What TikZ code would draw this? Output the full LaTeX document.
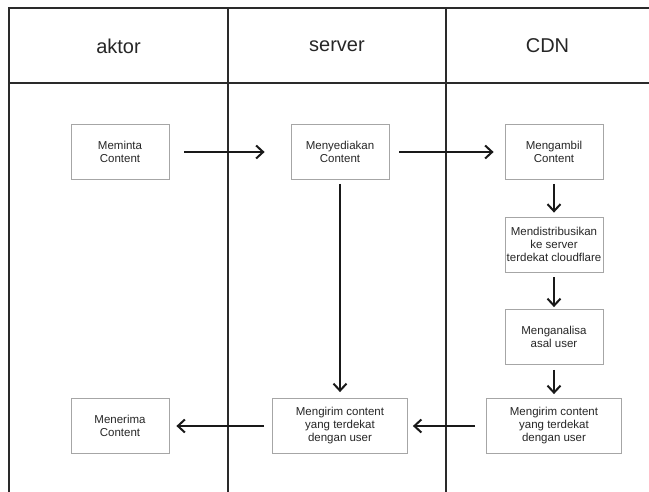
\documentclass[tikz,border=0pt]{standalone}
\usepackage{fontspec}
\setmainfont{Liberation Sans}
\usetikzlibrary{arrows.meta}
\definecolor{lajur}{HTML}{2A2A2A}
\definecolor{kotak}{HTML}{A6A6A6}

\begin{document}
\begin{tikzpicture}[x=1pt,y=-1pt,
	langkah/.style={draw=kotak, line width=0.8pt, minimum width=98pt, minimum height=55pt,
		inner sep=0pt, align=center, text=black!85, font=\fontsize{11.5}{13}\selectfont},
	langkahlebar/.style={langkah, minimum width=135pt},
	judul/.style={font=\fontsize{20}{24}\selectfont, text=black!85},
	panah/.style={draw=black!90, line width=2pt, -{Straight Barb[length=7pt,width=13pt]}}]
		\useasboundingbox (0,0) rectangle (649,492);
		%%%%% LAJUR %%%%%
		\draw[lajur, line width=2pt] (649,8) -- (9,8) -- (9,492);
		\draw[lajur, line width=2pt] (9,83) -- (649,83);
		\draw[lajur, line width=2pt] (228,8) -- (228,492);
		\draw[lajur, line width=2pt] (446,8) -- (446,492);
		
		\node[judul] (aktor) at (118.5, 46) {aktor};
		\node[judul] (server) at (337, 46) {server};
		\node[judul] (cdn) at (547.5, 46) {CDN};
		
		%%%%% LANGKAH %%%%%
		\node[langkah] (meminta) at (120, 152) {Meminta\\Content};
		\node[langkah] (menyediakan) at (340, 152) {Menyediakan\\Content};
		\node[langkah] (mengambil) at (554, 152) {Mengambil\\Content};
		\node[langkah] (distribusi) at (554, 244.5) {Mendistribusikan\\ke server\\terdekat cloudflare};
		\node[langkah] (analisa) at (554, 337) {Menganalisa\\asal user};
		\node[langkahlebar] (kirimcdn) at (554, 426) {Mengirim content\\yang terdekat\\dengan user};
		\node[langkahlebar] (kirimserver) at (340, 426) {Mengirim content\\yang terdekat\\dengan user};
		\node[langkah] (menerima) at (120, 426) {Menerima\\Content};
		
		%%%%% PANAH %%%%%
		\draw[panah, shorten <=15pt, shorten >=26pt] (meminta) -- (menyediakan);
		\draw[panah, shorten <=10pt, shorten >=11pt] (menyediakan) -- (mengambil);
		\draw[panah, shorten <=4pt, shorten >=4pt] (mengambil) -- (distribusi);
		\draw[panah, shorten <=5pt, shorten >=2pt] (distribusi) -- (analisa);
		\draw[panah, shorten <=5pt, shorten >=4pt] (analisa) -- (kirimcdn);
		\draw[panah, shorten <=4pt, shorten >=6pt] (menyediakan) -- (kirimserver);
		\draw[panah, shorten <=11pt, shorten >=5pt] (kirimcdn) -- (kirimserver);
		\draw[panah, shorten <=8pt, shorten >=7pt] (kirimserver) -- (menerima);
	\end{tikzpicture}
\end{document}
